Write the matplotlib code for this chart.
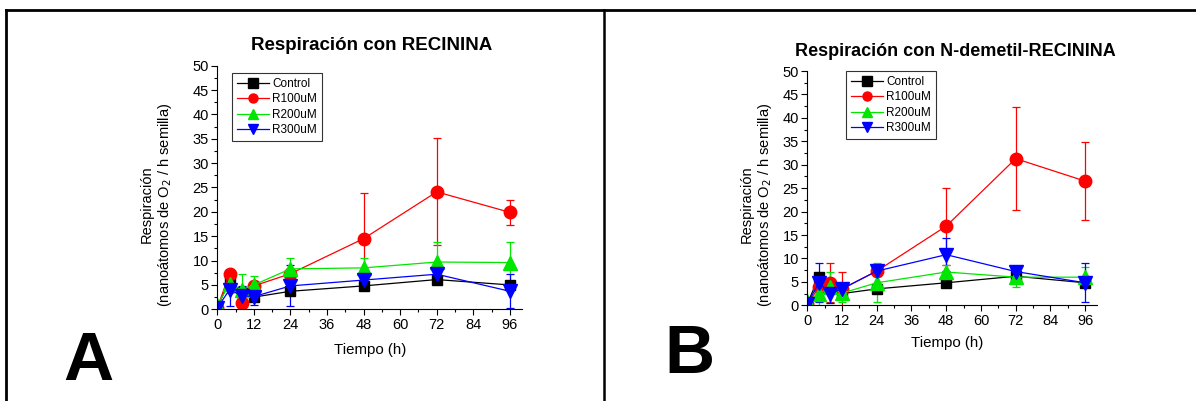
import matplotlib.pyplot as plt
from matplotlib.ticker import MultipleLocator
from matplotlib.lines import Line2D

plt.rcParams['font.family'] = ['Liberation Sans', 'DejaVu Sans']

tiempo = [0, 4, 8, 12, 24, 48, 72, 96]
series = ['Control', 'R100uM', 'R200uM', 'R300uM']

# panel A: RECININA
ctrl_a = [0.3, 6.0, 3.5, 2.5, 3.7, 4.8, 6.1, 5.0]
ctrl_a_err = [0.2, 1.0, 0.8, 0.5, 0.8, 0.6, 0.8, 0.7]
r100_a = [0.3, 7.3, 1.3, 4.8, 7.3, 14.5, 24.1, 19.9]
r100_a_err = [0.2, 0.5, 1.0, 0.8, 1.0, 9.4, 11.0, 2.5]
r200_a = [0.8, 5.2, 4.0, 5.0, 8.3, 8.5, 9.7, 9.6]
r200_a_err = [0.3, 1.8, 3.2, 1.8, 2.2, 2.0, 4.1, 4.2]
r300_a = [0.3, 4.0, 2.8, 2.6, 4.8, 6.0, 7.2, 3.7]
r300_a_err = [0.2, 3.4, 2.0, 1.7, 4.2, 2.0, 0.8, 3.5]

# panel B: N-demetil-RECININA
ctrl_b = [0.3, 6.1, 4.0, 2.5, 3.5, 4.8, 6.2, 4.8]
ctrl_b_err = [0.2, 0.8, 0.8, 0.5, 0.6, 0.5, 0.6, 0.6]
r100_b = [0.3, 3.8, 4.8, 3.5, 7.3, 16.9, 31.3, 26.5]
r100_b_err = [0.2, 2.0, 4.2, 3.7, 1.0, 8.2, 11.0, 8.3]
r200_b = [1.0, 2.5, 3.8, 2.6, 4.8, 7.1, 6.0, 6.0]
r200_b_err = [0.3, 4.0, 3.4, 2.0, 4.2, 1.4, 2.0, 2.1]
r300_b = [0.3, 4.8, 2.5, 3.5, 7.3, 10.8, 7.2, 4.8]
r300_b_err = [0.2, 4.2, 2.0, 1.0, 1.0, 3.5, 1.0, 4.2]

colors = ['black', '#ff0000', '#00e600', '#0000ff']
markers = ['s', 'o', '^', 'v']
msizes = [7.5, 9, 10, 10]

fig = plt.figure(figsize=(11.96, 4.01), dpi=100)

# frame lines
fig.add_artist(Line2D([6 / 1196, 6 / 1196], [0, 1 - 10 / 401], color='black', lw=2))
fig.add_artist(Line2D([6 / 1196, 1], [1 - 10 / 401, 1 - 10 / 401], color='black', lw=2))
fig.add_artist(Line2D([604 / 1196, 604 / 1196], [0, 1 - 10 / 401], color='black', lw=1.8))


def panel(rect, data, errs, title, tsize, title_xy, xlab_xy, ylab_x, leg_anchor):
    ax = fig.add_axes(rect)
    for y, e, c, m, ms in zip(data, errs, colors, markers, msizes):
        ax.errorbar(tiempo, y, yerr=e, color=c, marker=m, markersize=ms, lw=0.9,
                    elinewidth=0.9, capsize=3, capthick=0.9, ecolor=c)
    ax.set_xlim(0, 100)
    ax.set_ylim(0, 50)
    ax.set_xticks([0, 12, 24, 36, 48, 60, 72, 84, 96])
    ax.xaxis.set_minor_locator(MultipleLocator(6))
    ax.yaxis.set_major_locator(MultipleLocator(5))
    ax.yaxis.set_minor_locator(MultipleLocator(2.5))
    ax.tick_params(labelsize=10.5, length=4, width=0.8, pad=2)
    ax.tick_params(which='minor', length=2, width=0.8)
    ax.spines['top'].set_visible(False)
    ax.spines['right'].set_visible(False)
    fig.text(title_xy[0], title_xy[1], title, fontsize=tsize, fontweight='bold',
             ha='center', va='center')
    fig.text(xlab_xy[0], xlab_xy[1], 'Tiempo (h)', fontsize=10.8, ha='center', va='center')
    fig.text(ylab_x, 0.49, 'Respiración\n(nanoátomos de O$_2$ / h semilla)', fontsize=10.5,
             ha='center', va='center', rotation=90, linespacing=1.2)
    handles = [Line2D([], [], color=c, marker=m, markersize=6.5, lw=0.9)
               for c, m in zip(colors, markers)]
    leg = fig.legend(handles, series, loc='upper left', bbox_to_anchor=leg_anchor,
                     fontsize=8.5, frameon=True, fancybox=False, edgecolor='black',
                     handlelength=2.7, borderpad=0.4, labelspacing=0.3, handletextpad=0.3,
                     borderaxespad=0)
    leg.get_frame().set_linewidth(0.8)
    return ax


panel([0.1817, 0.2287, 0.2548, 0.6075],
      [ctrl_a, r100_a, r200_a, r300_a], [ctrl_a_err, r100_a_err, r200_a_err, r300_a_err],
      'Respiración con RECININA', 13.5, (372 / 1196, 1 - 46 / 401), (370 / 1196, 1 - 350 / 401),
      157 / 1196, (232 / 1196, 1 - 73 / 401))

panel([0.675, 0.2387, 0.242, 0.5842],
      [ctrl_b, r100_b, r200_b, r300_b], [ctrl_b_err, r100_b_err, r200_b_err, r300_b_err],
      'Respiración con N-demetil-RECININA', 13, (955 / 1196, 1 - 52 / 401), (947 / 1196, 1 - 343 / 401),
      757 / 1196, (846 / 1196, 1 - 71 / 401))

fig.text(88 / 1196, 1 - 362 / 401, 'A', fontsize=50, fontweight='bold', ha='center', va='center')
fig.text(689 / 1196, 1 - 355 / 401, 'B', fontsize=50, fontweight='bold', ha='center', va='center')

fig.savefig('out.png', dpi=100)
